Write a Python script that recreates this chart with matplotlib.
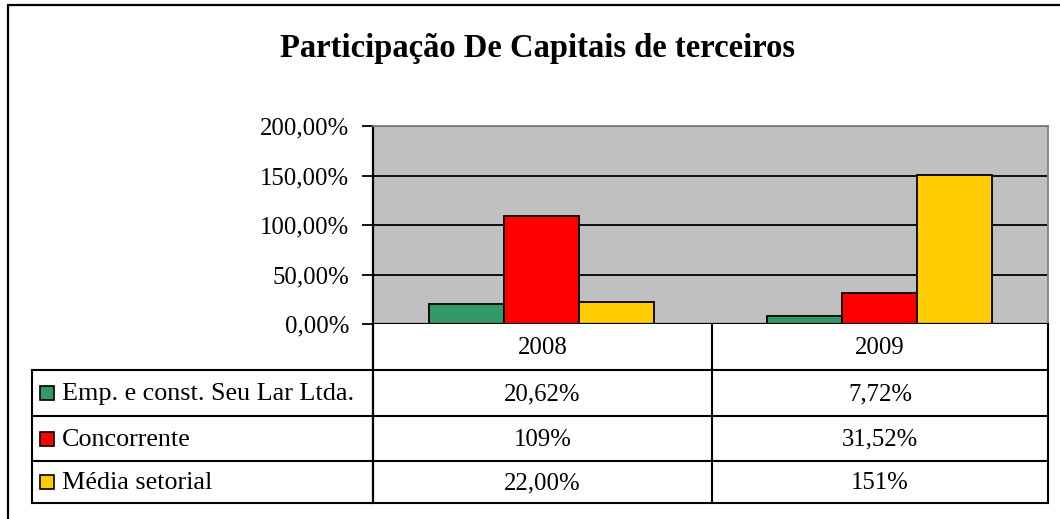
import numpy as np
import matplotlib
matplotlib.use("Agg")
import matplotlib.pyplot as plt
from matplotlib.patches import Rectangle
from matplotlib.lines import Line2D

plt.rcParams['font.family'] = ['Liberation Serif', 'DejaVu Serif']

title = "Participação De Capitais de terceiros"
years = ["2008", "2009"]
series = ["Emp. e const. Seu Lar Ltda.", "Concorrente", "Média setorial"]
colors = ["#339966", "#FF0000", "#FFCC00"]
values = [
    [20.62, 7.72],
    [109.0, 31.52],
    [22.00, 151.0],
]
shown = [
    ["20,62%", "7,72%"],
    ["109%", "31,52%"],
    ["22,00%", "151%"],
]
yticks = [0, 50, 100, 150, 200]

W, H = 1060, 519
fig = plt.figure(figsize=(W / 100, H / 100), dpi=100)

def fx(x):
    return x / W

def fy(y):
    return 1 - y / H

# outer frame
fig.add_artist(Rectangle((fx(8), fy(530)), fx(1060), 525 / H,
                         transform=fig.transFigure, fill=False, lw=1.6, ec="black"))

fig.text(fx(537), fy(48), title, ha="center", va="center",
         fontsize=23.5, fontweight="bold")

# plot area
pl, pr, pt, pb = 373, 1048, 126, 324
ax = fig.add_axes([fx(pl), fy(pb), fx(pr - pl), (pb - pt) / H])
ax.set_facecolor("#C0C0C0")
ax.set_xlim(0, len(years))
ax.set_ylim(0, 200)

bw = 75 / 337.5
x = np.arange(len(years)) + 0.5
for i, (name, c) in enumerate(zip(series, colors)):
    ax.bar(x + (i - 1) * bw, values[i], width=bw, color=c, edgecolor="black",
           linewidth=1.3, zorder=3)

ax.set_yticks(yticks)
ax.set_yticklabels([f"{v:.2f}".replace(".", ",") + "%" for v in yticks])
ax.tick_params(axis="y", length=8, width=1.3, labelsize=17.8, pad=9)
ax.set_xticks([])
for v in yticks[1:]:
    ax.axhline(v, color="black", lw=1.3, zorder=1)
ax.axhline(0, color="black", lw=1.6, zorder=4)
for s in ["top", "right"]:
    ax.spines[s].set_color("#808080")
    ax.spines[s].set_linewidth(1.3)
ax.spines["bottom"].set_visible(False)
ax.spines["left"].set_linewidth(1.6)

# data table
col_x = [32, 373, 712, 1048]
row_y = [324, 370, 416, 461, 503]

def hline(y, x0, x1, lw=1.5):
    fig.add_artist(Line2D([fx(x0), fx(x1)], [fy(y), fy(y)], color="black", lw=lw,
                          transform=fig.transFigure))

def vline(x0, y0, y1, lw=1.5):
    fig.add_artist(Line2D([fx(x0), fx(x0)], [fy(y0), fy(y1)], color="black", lw=lw,
                          transform=fig.transFigure))

for y in row_y[1:]:
    hline(y, col_x[0], col_x[3])
vline(col_x[0], row_y[1], row_y[4])
vline(col_x[1], row_y[0], row_y[4], lw=1.6)
vline(col_x[2], row_y[0], row_y[4])
vline(col_x[3], row_y[0], row_y[4])

fs = 17.8
for j, yr in enumerate(years):
    cx = (col_x[j + 1] + col_x[j + 2]) / 2
    fig.text(fx(cx), fy((row_y[0] + row_y[1]) / 2 + 1), yr, ha="center", va="center", fontsize=fs)

for i, name in enumerate(series):
    cy = (row_y[i + 1] + row_y[i + 2]) / 2
    fig.add_artist(Rectangle((fx(40), fy(cy + 7)), fx(14), 14 / H, transform=fig.transFigure,
                             fc=colors[i], ec="black", lw=1.2))
    fig.text(fx(62), fy(cy + 1), name, ha="left", va="center", fontsize=fs + 1)
    for j in range(len(years)):
        cx = (col_x[j + 1] + col_x[j + 2]) / 2
        fig.text(fx(cx), fy(cy + 1), shown[i][j], ha="center", va="center", fontsize=fs)

fig.savefig("out.png", dpi=100, facecolor="white")
